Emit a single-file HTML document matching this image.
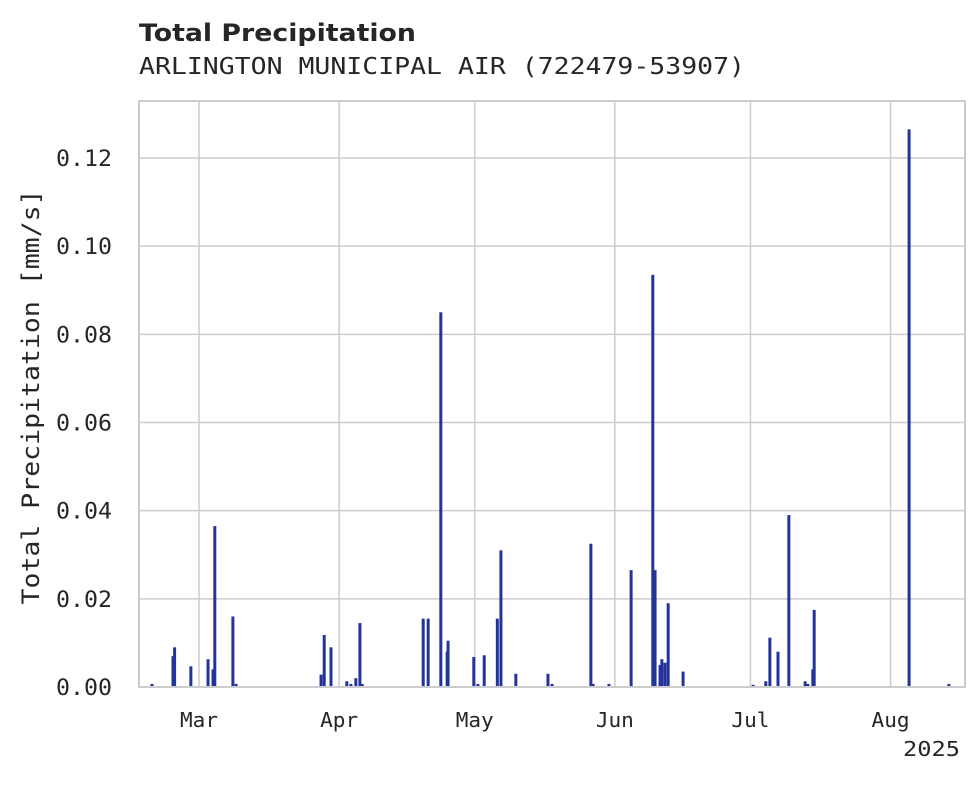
<!DOCTYPE html>
<html><head><meta charset="utf-8"><style>
body{margin:0;background:#fff;}
svg text{fill:#262626;}
</style></head><body>
<svg id="chart" width="980" height="783" xmlns="http://www.w3.org/2000/svg">
<text x="139" y="41" font-family="DejaVu Sans, sans-serif" font-weight="bold" font-size="24" textLength="277" lengthAdjust="spacingAndGlyphs">Total Precipitation</text>
<text x="139" y="74" font-family="DejaVu Sans Mono, Liberation Mono, monospace" font-size="23" textLength="606" lengthAdjust="spacingAndGlyphs">ARLINGTON MUNICIPAL AIR (722479-53907)</text>
<g id="grid"></g>
<g id="bars"></g>
<rect x="139" y="101" width="826" height="586" fill="none" stroke="#cccccc" stroke-width="2"/>
<g id="yticks"></g>
<g id="xticks"></g>
<text x="960" y="756" text-anchor="end" font-family="DejaVu Sans Mono, Liberation Mono, monospace" font-size="20" textLength="57" lengthAdjust="spacingAndGlyphs">2025</text>
<text transform="translate(39,397) rotate(-90)" text-anchor="middle" font-family="DejaVu Sans Mono, Liberation Mono, monospace" font-size="24" textLength="415" lengthAdjust="spacingAndGlyphs">Total Precipitation [mm/s]</text>
</svg>
<script>
const days=[-10.4,-5.75,-5.4,-1.8,2.0,3.1,3.5,7.5,8.2,27.0,27.7,29.2,32.7,33.6,34.7,35.6,36.1,49.6,50.7,53.5,54.9,55.1,60.8,61.7,63.1,66.0,66.8,70.1,77.2,78.1,86.7,87.2,90.7,95.6,100.4,100.9,102.0,102.4,103.1,103.8,107.1,122.6,125.4,126.3,128.1,130.5,134.1,134.7,135.8,136.1,157.1,165.9];
const precip=[0.0007,0.007,0.009,0.0047,0.0063,0.004,0.0365,0.016,0.0007,0.0028,0.0118,0.009,0.0013,0.0007,0.002,0.0145,0.0007,0.0155,0.0155,0.085,0.008,0.0105,0.0068,0.0007,0.0072,0.0155,0.031,0.003,0.003,0.0007,0.0325,0.0007,0.0007,0.0265,0.0935,0.0265,0.005,0.0063,0.0055,0.019,0.0035,0.0005,0.0013,0.0112,0.008,0.039,0.0013,0.0007,0.004,0.0175,0.1265,0.0007];
const monthLabels=["Mar","Apr","May","Jun","Jul","Aug"];
const monthDays=[0,31,61,92,122,153];
const yTicks=[0,0.02,0.04,0.06,0.08,0.10,0.12];
const yTickLabels=["0.00","0.02","0.04","0.06","0.08","0.10","0.12"];
const NS="http://www.w3.org/2000/svg";
const xS=d=>199+d*4.52;
const yS=v=>687-v*(529/0.12);
const grid=document.getElementById('grid'),bars=document.getElementById('bars'),yt=document.getElementById('yticks'),xt=document.getElementById('xticks');
function mk(tag,attrs,parent){const e=document.createElementNS(NS,tag);for(const k in attrs)e.setAttribute(k,attrs[k]);parent.appendChild(e);return e;}
yTicks.forEach((v,i)=>{
  const l=mk('line',{x1:139,x2:965,y1:yS(v),y2:yS(v),stroke:'#cccccc','stroke-width':1.5},grid);
  
  
  const t=mk('text',{x:56,y:yS(v)+8,'font-family':'DejaVu Sans Mono, Liberation Mono, monospace','font-size':22,textLength:56,lengthAdjust:'spacingAndGlyphs'},yt);
  t.textContent=yTickLabels[i];
  
  
});
monthDays.forEach((d,i)=>{
  const l=mk('line',{x1:xS(d),x2:xS(d),y1:101,y2:687,stroke:'#cccccc','stroke-width':1.5},grid);
  
  
  const t=mk('text',{x:xS(d)-19,y:727,'font-family':'DejaVu Sans Mono, Liberation Mono, monospace','font-size':20,textLength:38,lengthAdjust:'spacingAndGlyphs'},xt);
  t.textContent=monthLabels[i];
  
  
});
days.forEach((d,i)=>{
  const y=yS(precip[i]);
  const r=mk('rect',{x:xS(d)-1.5,y:y,width:3,height:687-y,fill:'#22349a'},bars);
  
  
});
</script>
</body></html>
